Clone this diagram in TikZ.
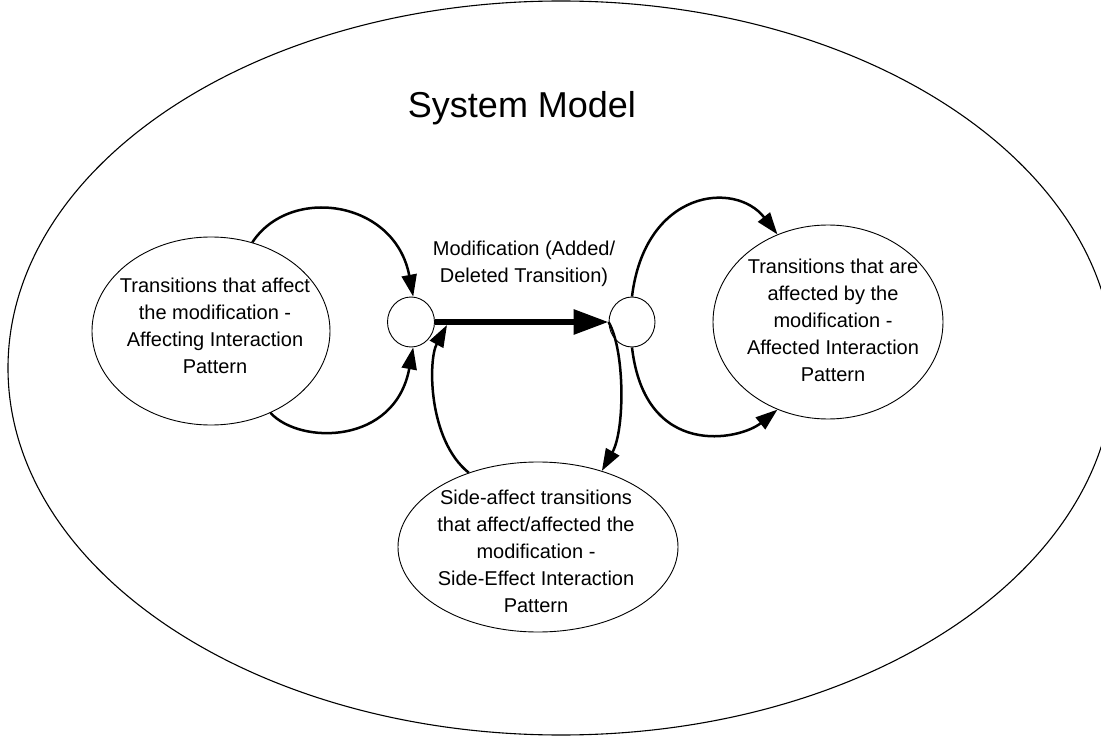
\documentclass[tikz,border=0pt]{standalone}
\usepackage{fontspec}
\setmainfont{Liberation Sans}
\usetikzlibrary{shapes.geometric,arrows.meta}
\begin{document}
\begin{tikzpicture}[x=1pt,y=-1pt,
  ell/.style={draw, ellipse, inner sep=0pt, line width=0.9pt},
  lbl/.style={align=center, inner sep=0pt, font=\fontsize{20}{27}\selectfont},
  conn/.style={line width=2.5pt, -{Triangle[length=22pt,width=15pt]}},
  mainarrow/.style={line width=6pt, -{Triangle[length=35pt,width=24pt]}}]
\useasboundingbox (0,0) rectangle (1101,738);
\clip (0,0) rectangle (1101,738);
\node[ell, minimum width=1106pt, minimum height=734pt, line width=1.1pt] (sys) at (561,368) {};
\node[anchor=base, inner sep=0pt, font=\fontsize{36}{43}\selectfont] (title) at (522,118) {System Model};
% main ellipses
\node[ell, minimum width=238pt, minimum height=188pt] (L) at (211,331) {};
\node[lbl] (Lt) at (215,326) {Transitions that affect\\the modification -\\Affecting Interaction\\Pattern};
\node[ell, minimum width=230pt, minimum height=194pt] (R) at (828,322) {};
\node[lbl] (Rt) at (833,320) {Transitions that are\\affected by the\\modification -\\Affected Interaction\\Pattern};
\node[ell, minimum width=280pt, minimum height=170pt] (B) at (538,547) {};
\node[lbl] (Bt) at (536,551) {Side-affect transitions\\that affect/affected the\\modification -\\Side-Effect Interaction\\Pattern};
% small circles
\node[ell, minimum width=47pt, minimum height=50pt] (cl) at (411,322) {};
\node[ell, minimum width=46pt, minimum height=50pt] (cr) at (632,322) {};
\node[lbl] (mod) at (524,264) {Modification (Added/\\Deleted Transition)};
% connectors
\draw[mainarrow] (cl.east) -- (cr.west);
\draw[conn] (L.65) .. controls (290,185) and (395,200) .. (cl.85);
\draw[conn] (L.-54) .. controls (300,445) and (395,445) .. (cl.-85);
\coordinate (j1) at (447,325);
\draw[conn] (B.133) .. controls (428,440) and (428,360) .. (j1);
\draw[conn] (cr.180) .. controls (625,350) and (625,430) .. (B.50);
\draw[conn] (cr.90) .. controls (645,190) and (735,180) .. (R.120);
\draw[conn] (cr.-90) .. controls (645,460) and (740,440) .. (R.240);
\end{tikzpicture}
\end{document}
